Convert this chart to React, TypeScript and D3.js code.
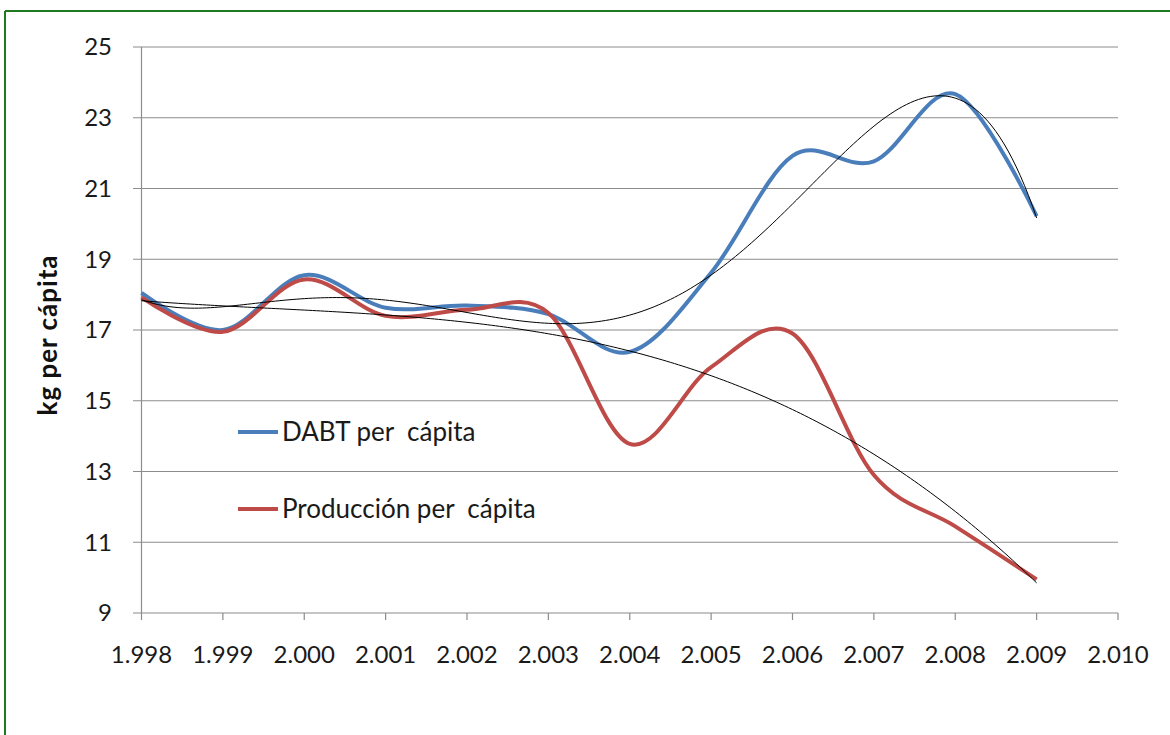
import React, { useEffect } from "react";
import * as d3 from "d3";

const years = [1998, 1999, 2000, 2001, 2002, 2003, 2004, 2005, 2006, 2007, 2008, 2009];
const dabt = [18.05, 17.0, 18.55, 17.63, 17.69, 17.45, 16.38, 18.62, 21.92, 21.77, 23.67, 20.22];
const produccion = [17.92, 16.95, 18.43, 17.4, 17.57, 17.48, 13.78, 15.95, 16.9, 12.9, 11.45, 9.95];
const yTicks = [9, 11, 13, 15, 17, 19, 21, 23, 25];
const xTicks = [1998, 1999, 2000, 2001, 2002, 2003, 2004, 2005, 2006, 2007, 2008, 2009, 2010];

// polynomial order of each trendline
const DABT_ORDER = 5;
const PROD_ORDER = 3;

const W = 1170;
const H = 735;
const FONT = "Lato, 'Open Sans', sans-serif";
const BLUE = "#4a7ebb";
const RED = "#be4b48";

const es = d3.formatLocale({ decimal: ",", thousands: ".", grouping: [3], currency: ["", "€"] });
const fmtYear = es.format(",");

// least squares polynomial, like an excel trendline
function polyfit(xs: number[], ys: number[], deg: number) {
  const x0 = d3.mean(xs) as number;
  const n = deg + 1;
  const A: number[][] = [];
  for (let i = 0; i < n; i++) {
    A.push(new Array(n + 1).fill(0));
  }
  xs.forEach((xv, k) => {
    const t = (xv - x0) / 5;
    for (let i = 0; i < n; i++) {
      for (let j = 0; j < n; j++) A[i][j] += Math.pow(t, i + j);
      A[i][n] += Math.pow(t, i) * ys[k];
    }
  });
  for (let i = 0; i < n; i++) {
    let p = i;
    for (let r = i + 1; r < n; r++) if (Math.abs(A[r][i]) > Math.abs(A[p][i])) p = r;
    [A[i], A[p]] = [A[p], A[i]];
    for (let r = 0; r < n; r++) {
      if (r === i) continue;
      const f = A[r][i] / A[i][i];
      for (let c = i; c <= n; c++) A[r][c] -= f * A[i][c];
    }
  }
  const coef = A.map((row, i) => row[n] / row[i]);
  return (xv: number) => {
    const t = (xv - x0) / 5;
    return coef.reduce((s, c, i) => s + c * Math.pow(t, i), 0);
  };
}

export default function App() {
  useEffect(() => {
    document.body.style.margin = "0";
  }, []);

  const x = d3.scaleLinear().domain([1998, 2010]).range([141.5, 1118]);
  const y = d3.scaleLinear().domain([9, 25]).range([613, 47]);

  // excel "smoothed line" ~ catmull-rom
  const smooth = d3
    .line<number>()
    .x((d, i) => x(years[i]))
    .y((d) => y(d))
    .curve(d3.curveCardinal.tension(0));

  const fine = d3.range(1998, 2009.001, 0.05);
  const trendPath = (f: (v: number) => number) =>
    d3
      .line<number>()
      .x((d) => x(d))
      .y((d) => y(f(d)))(fine) as string;

  return (
    <svg width={W} height={H} style={{ display: "block", background: "#fff" }} fontFamily={FONT}>
      {/* border */}
      <line x1={5} x2={W} y1={11} y2={11} stroke="#1f7a1f" strokeWidth={2} />
      <line x1={5} x2={5} y1={11} y2={H} stroke="#1f7a1f" strokeWidth={2} />

      {/* grid + y axis */}
      {yTicks.map((t) => (
        <g key={t}>
          <line x1={133} x2={x(2010)} y1={y(t)} y2={y(t)} stroke="#8c8c8c" strokeWidth={1.2} />
          <text x={112} y={y(t)} dy="0.35em" textAnchor="end" fontSize={24} fill="#1a1a1a">
            {t}
          </text>
        </g>
      ))}
      <line x1={x(1998)} x2={x(1998)} y1={y(25)} y2={y(9)} stroke="#8c8c8c" strokeWidth={1.2} />
      {xTicks.map((t) => (
        <g key={t}>
          <line x1={x(t)} x2={x(t)} y1={y(9)} y2={y(9) + 7} stroke="#8c8c8c" strokeWidth={1.2} />
          <text x={x(t)} y={663} textAnchor="middle" fontSize={24} fill="#1a1a1a">
            {fmtYear(t)}
          </text>
        </g>
      ))}

      <text
        transform={`translate(57,335) rotate(-90)`}
        textAnchor="middle"
        fontSize={26}
        fontWeight="bold"
        letterSpacing={1}
        fill="#111"
      >
        kg per cápita
      </text>

      {/* series */}
      <path d={smooth(dabt) as string} fill="none" stroke={BLUE} strokeWidth={4} />
      <path d={smooth(produccion) as string} fill="none" stroke={RED} strokeWidth={4} />

      {/* trendlines */}
      <path d={trendPath(polyfit(years, dabt, DABT_ORDER))} fill="none" stroke="#000" strokeWidth={1} />
      <path d={trendPath(polyfit(years, produccion, PROD_ORDER))} fill="none" stroke="#000" strokeWidth={1} />

      {/* legend */}
      <line x1={238} x2={278} y1={432} y2={432} stroke={BLUE} strokeWidth={4} />
      <text x={282} y={441} fontSize={26} fill="#1a1a1a" style={{ whiteSpace: "pre" }}>
        {"DABT per  cápita"}
      </text>
      <line x1={238} x2={278} y1={509} y2={509} stroke={RED} strokeWidth={4} />
      <text x={282} y={518} fontSize={26} fill="#1a1a1a" style={{ whiteSpace: "pre" }}>
        {"Producción per  cápita"}
      </text>
    </svg>
  );
}
